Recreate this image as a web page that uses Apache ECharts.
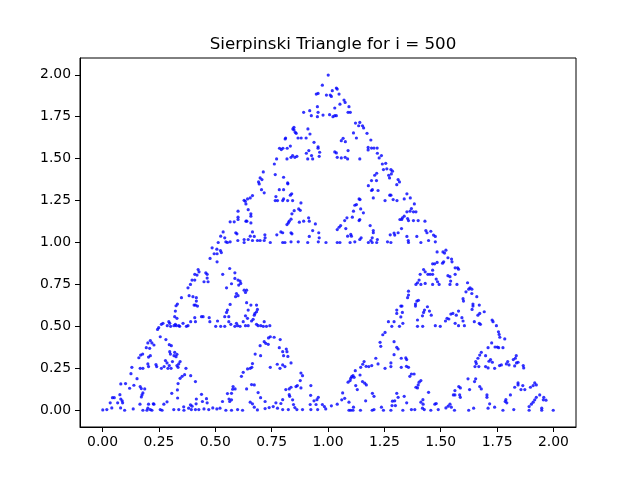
<!DOCTYPE html>
<html>
<head>
<meta charset="utf-8">
<script src="https://cdn.jsdelivr.net/npm/echarts@6/dist/echarts.min.js"></script>
<style>
  html, body { margin: 0; padding: 0; background: #fff; }
  #chart { width: 640px; height: 480px; }
</style>
</head>
<body>
<div id="chart"></div>
<script>
const TITLE = "Sierpinski Triangle for i = 500";
const TICKS = [0, 0.25, 0.5, 0.75, 1, 1.25, 1.5, 1.75, 2];

// points, grouped by the nine small triangles
const bottomA = [
  [.256,.438],[.281,.421],[.212,.415],[.201,.401],[.219,.401],[.228,.389],[.194,.373],[.209,.369],[.296,.391],[.305,.385],
  [.298,.349],[.301,.335],[.320,.345],[.330,.333],[.317,.325],[.326,.319],[.169,.329],[.178,.335],[.161,.313],[.204,.317],
  [.212,.325],[.279,.296],[.286,.282],[.310,.290],[.344,.290],[.338,.276],[.201,.276],[.204,.260],[.237,.272],[.240,.260],
  [.273,.260],[.296,.266],[.290,.250],[.304,.250],[.330,.266],[.335,.256],[.167,.250],[.179,.250],[.130,.256],[.261,.250],
  [.370,.250],[.126,.218],[.153,.188],[.353,.202],[.364,.212],[.344,.190],[.391,.206],[.335,.159],[.412,.171],[.081,.157],
  [.102,.159],[.139,.149],[.167,.141],[.172,.129],[.187,.127],[.120,.131],[.307,.101],[.332,.121],[.179,.103],[.175,.091],
  [.172,.079],[.077,.093],[.439,.095],[.044,.075],[.052,.075],[.081,.067],[.087,.056],[.089,.044],[.333,.073],[.416,.067],
  [.461,.069],[.443,.052],[.464,.044],[.034,.044],[.067,.044],[.286,.050],[.272,.036],[.228,.036],[.166,.036],[.204,.036],
  [.225,.038],[.390,.032],[.397,.024],[.360,.020],[.415,.038],[.019,.004],[.001,.002],[.041,.014],[.080,.014],[.136,.008],
  [.098,0],[.201,.012],[.197,0],[.212,.004],[.179,0],[.219,0],[.256,.004],[.264,0],[.316,.004],[.338,.004],
  [.361,0],[.382,.012],[.394,.004],[.412,.004],[.427,.004],[.450,.008],[.471,.004],[.489,.014]
];
const bottomB = [
  [.744,.438],[.736,.431],[.761,.435],[.788,.421],[.717,.409],[.724,.399],[.735,.393],[.699,.385],[.784,.373],[.815,.365],
  [.818,.349],[.799,.349],[.803,.325],[.822,.321],[.677,.335],[.701,.325],[.836,.282],[.799,.270],[.809,.260],[.665,.278],
  [.662,.256],[.643,.246],[.655,.250],[.744,.256],[.775,.274],[.787,.250],[.880,.222],[.887,.206],[.624,.226],[.616,.202],
  [.877,.177],[.864,.147],[.858,.141],[.924,.147],[.661,.153],[.673,.151],[.579,.141],[.588,.127],[.577,.125],[.639,.127],
  [.880,.133],[.836,.137],[.828,.127],[.813,.123],[.690,.105],[.554,.099],[.572,.101],[.828,.093],[.830,.083],[.923,.089],
  [.957,.077],[.701,.075],[.721,.052],[.799,.063],[.561,.067],[.572,.062],[.564,.052],[.843,.062],[.951,.063],[.938,.056],
  [.532,.052],[.655,.048],[.665,.038],[.769,.044],[.791,.040],[.847,.034],[.921,.034],[.947,.034],[.975,.034],[.673,.018],
  [.687,.002],[.721,.010],[.739,.016],[.757,.022],[.776,.012],[.799,.004],[.824,.004],[.853,.016],[.862,.004],[.887,.004],
  [.924,.004],[.954,.004],[.984,.022],[.990,.008],[.507,.008],[.521,.012],[.547,0],[.572,0],[.599,.004],[.621,0]
];
const bottomC = [
  [1.253,.464],[1.243,.450],[1.231,.405],[1.234,.381],[1.293,.409],[1.305,.375],[1.311,.365],[1.293,.331],[1.325,.310],[1.345,.312],
  [1.349,.302],[1.212,.310],[1.222,.276],[1.194,.266],[1.160,.290],[1.154,.274],[1.169,.262],[1.181,.260],[1.145,.256],[1.142,.210],
  [1.121,.236],[1.279,.282],[1.253,.250],[1.325,.256],[1.348,.262],[1.357,.256],[1.279,.260],[1.370,.216],[1.382,.216],[1.363,.202],
  [1.111,.206],[1.105,.200],[1.101,.190],[1.116,.196],[1.089,.167],[1.098,.177],[1.153,.171],[1.163,.161],[1.170,.151],[1.123,.147],
  [1.130,.123],[1.412,.177],[1.404,.167],[1.400,.151],[1.390,.137],[1.397,.133],[1.065,.103],[1.197,.101],[1.204,.083],[1.305,.101],
  [1.446,.107],[1.074,.071],[1.061,.062],[1.093,.048],[1.167,.056],[1.311,.077],[1.338,.083],[1.286,.054],[1.296,.056],[1.421,.063],
  [1.412,.048],[1.422,.036],[1.349,.044],[1.474,.036],[1.480,.040],[1.041,.036],[1.015,.026],[1.113,.018],[1.093,0],[1.101,0],
  [1.111,0],[1.144,0],[1.196,0],[1.204,.004],[1.237,.018],[1.246,0],[1.284,.028],[1.299,.028],[1.279,0],[1.332,0],
  [1.370,.004],[1.385,.004],[1.427,.004],[1.419,.012],[1.456,0],[1.489,.004]
];
const bottomD = [
  [1.756,.468],[1.759,.452],[1.762,.435],[1.784,.425],[1.726,.401],[1.710,.373],[1.741,.377],[1.751,.377],[1.757,.373],[1.776,.373],
  [1.680,.345],[1.673,.329],[1.699,.325],[1.835,.325],[1.831,.310],[1.822,.302],[1.665,.310],[1.655,.290],[1.658,.278],[1.721,.302],
  [1.714,.292],[1.729,.286],[1.797,.290],[1.791,.276],[1.803,.270],[1.843,.286],[1.836,.282],[1.769,.270],[1.761,.266],[1.699,.260],
  [1.710,.252],[1.739,.250],[1.652,.260],[1.669,.260],[1.828,.264],[1.866,.266],[1.868,.252],[1.621,.187],[1.655,.187],[1.650,.171],
  [1.580,.141],[1.587,.133],[1.628,.123],[1.673,.141],[1.680,.127],[1.843,.163],[1.843,.151],[1.828,.137],[1.864,.147],[1.873,.123],
  [1.856,.123],[1.917,.163],[1.924,.151],[1.910,.147],[1.898,.137],[1.563,.117],[1.556,.091],[1.563,.091],[1.584,.091],[1.587,.077],
  [1.705,.091],[1.705,.077],[1.809,.091],[1.939,.091],[1.957,.077],[1.924,.077],[1.917,.062],[1.789,.063],[1.793,.044],[1.786,.052],
  [1.717,.038],[1.710,.012],[1.739,.018],[1.910,.048],[1.902,.036],[1.892,.022],[1.955,.062],[1.967,.060],[1.541,.036],[1.533,.024],
  [1.523,.014],[1.547,.018],[1.561,0],[1.624,0],[1.646,.012],[1.776,0],[1.824,.004],[1.892,0],[1.948,.012],[1.948,0],
  [1.999,0]
];
const middleL = [
  [.486,.968],[.507,.960],[.495,.933],[.508,.933],[.523,.952],[.527,.940],[.477,.905],[.508,.885],[.424,.839],[.428,.825],
  [.409,.810],[.419,.806],[.458,.819],[.464,.810],[.450,.766],[.468,.766],[.464,.788],[.397,.776],[.409,.776],[.390,.750],
  [.379,.730],[.533,.810],[.564,.845],[.587,.819],[.587,.786],[.601,.776],[.610,.770],[.613,.756],[.604,.746],[.572,.754],
  [.550,.730],[.628,.716],[.639,.716],[.634,.702],[.594,.696],[.590,.677],[.601,.683],[.384,.683],[.401,.677],[.416,.671],
  [.416,.651],[.406,.627],[.412,.627],[.421,.621],[.350,.671],[.332,.633],[.326,.623],[.639,.641],[.658,.627],[.683,.627],
  [.566,.631],[.554,.597],[.550,.583],[.323,.591],[.687,.601],[.683,.587],[.676,.577],[.673,.567],[.646,.597],[.439,.558],
  [.446,.558],[.409,.552],[.473,.552],[.542,.558],[.560,.558],[.634,.563],[.643,.548],[.320,.558],[.330,.548],[.668,.542],
  [.661,.532],[.294,.528],[.298,.518],[.323,.512],[.327,.504],[.338,.504],[.357,.518],[.379,.504],[.391,.528],[.412,.528],
  [.476,.528],[.510,.532],[.560,.528],[.569,.512],[.594,.518],[.599,.504],[.624,.528],[.634,.504],[.683,.512],[.690,.504],
  [.702,.504],[.717,.528],[.742,.504],[.261,.512],[.268,.518],[.287,.504],[.249,.492],[.244,.482],[.302,.500],[.317,.504],
  [.342,.500],[.372,.500],[.502,.500],[.524,.500],[.542,.500],[.587,.500],[.610,.500],[.646,.504],[.713,.500],[.727,.500]
];
const middleR = [
  [1.510,.944],[1.523,.954],[1.517,.937],[1.484,.944],[1.532,.909],[1.548,.901],[1.550,.885],[1.513,.885],[1.508,.877],[1.484,.881],
  [1.473,.873],[1.464,.873],[1.564,.849],[1.575,.849],[1.579,.841],[1.424,.839],[1.431,.825],[1.409,.810],[1.443,.810],[1.453,.810],
  [1.464,.810],[1.464,.835],[1.532,.802],[1.541,.796],[1.564,.810],[1.480,.782],[1.486,.766],[1.544,.770],[1.404,.776],[1.397,.760],
  [1.390,.750],[1.412,.750],[1.431,.756],[1.464,.750],[1.493,.750],[1.541,.750],[1.572,.750],[1.619,.760],[1.357,.710],[1.357,.687],
  [1.353,.671],[1.630,.730],[1.624,.722],[1.638,.722],[1.612,.706],[1.638,.696],[1.660,.677],[1.599,.665],[1.601,.651],[1.394,.651],
  [1.401,.655],[1.388,.633],[1.388,.621],[1.323,.621],[1.328,.621],[1.441,.617],[1.643,.633],[1.643,.621],[1.671,.627],[1.639,.601],
  [1.305,.597],[1.305,.577],[1.330,.583],[1.428,.597],[1.424,.583],[1.419,.563],[1.450,.591],[1.458,.567],[1.579,.591],[1.554,.577],
  [1.545,.573],[1.569,.567],[1.594,.552],[1.673,.577],[1.665,.567],[1.693,.587],[1.323,.556],[1.528,.548],[1.536,.544],[1.521,.532],
  [1.397,.538],[1.268,.528],[1.293,.528],[1.332,.518],[1.599,.532],[1.649,.528],[1.671,.518],[1.728,.538],[1.732,.528],[1.564,.518],
  [1.579,.504],[1.605,.504],[1.676,.512],[1.283,.500],[1.317,.500],[1.397,.500],[1.420,.500],[1.476,.504],[1.498,.500],[1.747,.504]
];
const upperL = [
  [.843,1.518],[.853,1.508],[.836,1.508],[.862,1.514],[.818,1.498],[.772,1.498],[.910,1.498],[.932,1.498],[.927,1.518],[.961,1.514],
  [.762,1.468],[.713,1.421],[.766,1.405],[.699,1.385],[.707,1.375],[.692,1.361],[.695,1.349],[.803,1.389],[.821,1.355],[.822,1.350],
  [.705,1.315],[.717,1.296],[.784,1.315],[.803,1.315],[.839,1.290],[.833,1.282],[.665,1.280],[.655,1.266],[.643,1.260],[.633,1.246],
  [.628,1.252],[.636,1.230],[.769,1.274],[.766,1.250],[.776,1.250],[.799,1.250],[.803,1.260],[.821,1.250],[.843,1.250],[.880,1.236],
  [.870,1.200],[.877,1.192],[.850,1.190],[.840,1.171],[.601,1.187],[.646,1.196],[.658,1.171],[.658,1.157],[.601,1.151],[.601,1.137],
  [.636,1.127],[.640,1.127],[.914,1.147],[.917,1.127],[.892,1.127],[.873,1.121],[.836,1.139],[.828,1.127],[.824,1.117],[.818,1.107],
  [.584,1.123],[.566,1.123],[.658,1.117],[.944,1.111],[.591,1.058],[.596,1.052],[.535,1.063],[.524,1.038],[.665,1.063],[.655,1.038],
  [.673,1.036],[.791,1.063],[.799,1.058],[.773,1.046],[.836,1.058],[.840,1.052],[.720,1.046],[.721,1.028],[.932,1.071],[.959,1.058],
  [.917,1.036],[.961,1.028],[.542,1.028],[.547,1.004],[.554,1.000],[.628,1.018],[.628,1.000],[.646,1.018],[.665,1.012],[.687,1.012],
  [.699,1.012],[.717,1.012],[.513,1.000],[.566,1.004],[.600,1.012],[.744,1.000],[.799,1.000],[.809,1.000],[.836,1.004],[.868,1.004],
  [.910,1.000],[.957,1.004],[.991,1.000]
];
const upperR = [
  [1.041,1.508],[1.059,1.504],[1.076,1.508],[1.087,1.498],[1.141,1.498],[1.237,1.518],[1.227,1.504],[1.256,1.472],[1.241,1.468],[1.246,1.435],
  [1.261,1.439],[1.279,1.435],[1.286,1.425],[1.216,1.413],[1.207,1.401],[1.269,1.401],[1.273,1.385],[1.281,1.409],[1.193,1.369],[1.215,1.369],
  [1.311,1.375],[1.317,1.361],[1.305,1.345],[1.179,1.339],[1.197,1.315],[1.193,1.310],[1.222,1.310],[1.274,1.282],[1.279,1.282],[1.201,1.266],
  [1.253,1.250],[1.289,1.256],[1.306,1.250],[1.338,1.260],[1.365,1.266],[1.350,1.290],[1.138,1.260],[1.142,1.256],[1.126,1.226],[1.119,1.222],
  [1.145,1.200],[1.157,1.177],[1.113,1.187],[1.383,1.230],[1.370,1.202],[1.364,1.187],[1.379,1.183],[1.390,1.183],[1.350,1.183],[1.084,1.147],
  [1.074,1.131],[1.108,1.151],[1.138,1.131],[1.141,1.137],[1.338,1.157],[1.330,1.147],[1.319,1.137],[1.327,1.137],[1.353,1.143],[1.357,1.131],
  [1.379,1.131],[1.400,1.131],[1.430,1.127],[1.056,1.101],[1.049,1.091],[1.041,1.077],[1.079,1.083],[1.187,1.101],[1.201,1.071],[1.201,1.058],
  [1.326,1.083],[1.293,1.056],[1.296,1.044],[1.276,1.046],[1.311,1.058],[1.434,1.071],[1.439,1.058],[1.456,1.067],[1.468,1.044],[1.087,1.038],
  [1.101,1.048],[1.104,1.038],[1.147,1.028],[1.141,1.018],[1.196,1.028],[1.190,1.012],[1.219,1.018],[1.350,1.036],[1.356,1.012],[1.394,1.036],
  [1.446,1.012],[1.476,1.004],[1.476,1.036],[1.041,1.000],[1.053,1.000],[1.098,1.000],[1.119,1.004],[1.179,1.000],[1.196,1.000],[1.216,1.000],
  [1.264,1.004],[1.279,1.000],[1.357,1.000],[1.412,1.000]
];
const apexPart = [
  [1.001,1.998],[.975,1.938],[1.037,1.921],[1.041,1.915],[1.019,1.905],[.956,1.889],[.948,1.885],[1.049,1.885],[.993,1.879],[1.010,1.879],
  [1.015,1.871],[1.071,1.849],[1.076,1.835],[1.053,1.825],[1.030,1.802],[.953,1.810],[1.093,1.810],[.919,1.786],[.892,1.776],[.956,1.776],
  [1.089,1.776],[1.099,1.776],[.978,1.760],[1.007,1.762],[1.022,1.750],[1.030,1.756],[1.037,1.756],[.926,1.756],[.953,1.750],[1.122,1.712],
  [1.141,1.716],[1.136,1.696],[1.153,1.696],[1.158,1.683],[1.173,1.651],[1.113,1.653],[1.126,1.623],[.849,1.687],[.849,1.671],[.844,1.677],
  [.859,1.651],[.855,1.657],[.911,1.677],[.920,1.647],[.812,1.623],[.810,1.617],[.867,1.623],[.881,1.623],[.903,1.623],[.938,1.597],
  [1.067,1.621],[1.059,1.607],[1.077,1.601],[1.190,1.611],[.833,1.575],[.819,1.562],[.785,1.562],[.793,1.554],[.800,1.562],[.956,1.571],
  [.956,1.562],[.915,1.548],[1.030,1.540],[1.037,1.534],[1.089,1.548],[1.178,1.567],[1.178,1.552],[1.193,1.563],[1.204,1.563],[1.218,1.563],
  [1.219,1.532],[.904,1.532],[.963,1.538]
];

const points = [].concat(bottomA, bottomB, bottomC, bottomD, middleL, middleR, upperL, upperR, apexPart);

const FONT = "DejaVu Sans";

function axis(labelMargin) {
  return {
    type: "value",
    min: -0.1,
    max: 2.1,
    axisLine: { show: true, onZero: false, lineStyle: { color: "#000", width: 1 } },
    axisTick: { show: true, inside: false, customValues: TICKS, length: 5, lineStyle: { color: "#000", width: 1 } },
    axisLabel: {
      customValues: TICKS,
      color: "#000",
      fontFamily: FONT,
      fontSize: 13.9,
      margin: labelMargin,
      formatter: v => v.toFixed(2),
    },
    splitLine: { show: false },
  };
}

const chart = echarts.init(document.getElementById("chart"), null, { renderer: "canvas" });
chart.setOption({
  animation: false,
  backgroundColor: "#fff",
  title: {
    text: TITLE,
    left: 328,
    top: 31,
    textAlign: "center",
    textStyle: { fontFamily: FONT, fontSize: 16.7, fontWeight: "normal", color: "#000" },
  },
  grid: { left: 80, right: 64, top: 58, bottom: 53, show: true, borderColor: "#000", borderWidth: 1 },
  xAxis: axis(8),
  yAxis: axis(9),
  series: [{
    type: "scatter",
    symbol: "circle",
    symbolSize: 3.2,
    itemStyle: { color: "#0000ff" },
    data: points,
  }],
});
</script>
</body>
</html>
